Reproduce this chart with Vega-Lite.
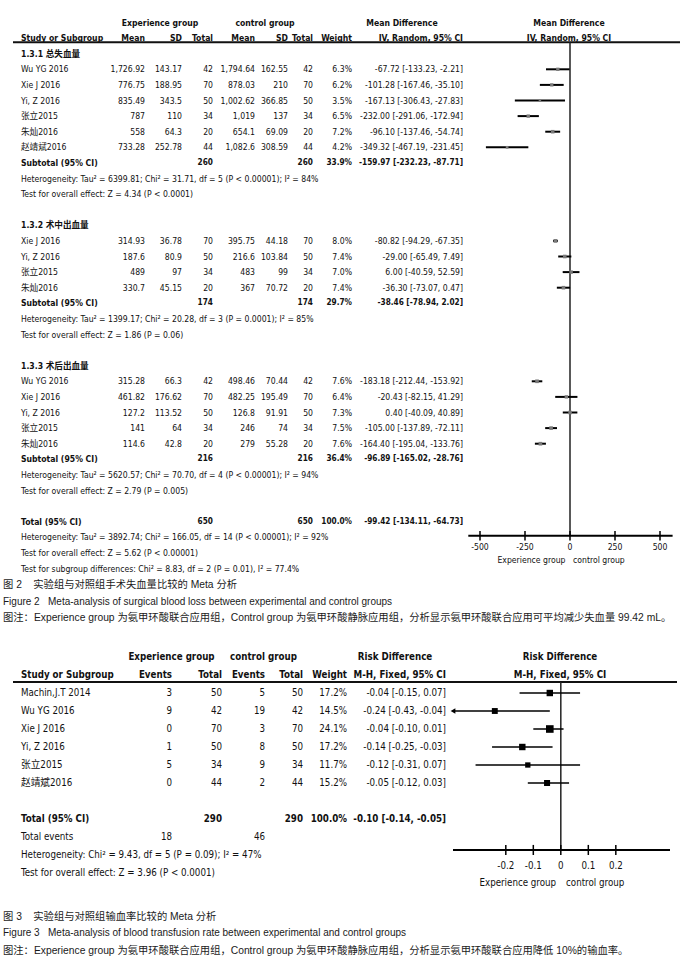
{
  "$schema": "https://vega.github.io/schema/vega-lite/v6.json",
  "width": 682,
  "height": 960,
  "autosize": {"type": "fit", "contains": "padding"},
  "padding": 0,
  "background": "white",
  "config": {
    "view": {"stroke": null},
    "axis": {"disable": true},
    "legend": {"disable": true},
    "text": {"font": "Liberation Sans Narrow, Arial Narrow, DejaVu Sans Condensed, Noto Sans CJK SC, sans-serif", "color": "#111"}
  },
  "resolve": {"scale": {"x": "independent", "y": "independent", "size": "independent"}},
  "datasets": {
    "t2": [
      {"l":0,"c":9,"t":"Experience group","k":"hdr"},
      {"l":0,"c":10,"t":"control group","k":"hdr"},
      {"l":0,"c":11,"t":"Mean Difference","k":"hdr"},
      {"l":0,"c":12,"t":"Mean Difference","k":"hdr"},
      {"l":1,"c":0,"t":"Study or Subgroup","k":"hdr"},
      {"l":1,"c":1,"t":"Mean","k":"hdr"},
      {"l":1,"c":2,"t":"SD","k":"hdr"},
      {"l":1,"c":3,"t":"Total","k":"hdr"},
      {"l":1,"c":4,"t":"Mean","k":"hdr"},
      {"l":1,"c":5,"t":"SD","k":"hdr"},
      {"l":1,"c":6,"t":"Total","k":"hdr"},
      {"l":1,"c":7,"t":"Weight","k":"hdr"},
      {"l":1,"c":8,"t":"IV, Random, 95% CI","k":"hdr"},
      {"l":1,"c":12,"t":"IV, Random, 95% CI","k":"hdr"},
      {"l":2,"c":0,"t":"1.3.1 总失血量","k":"sec"},
      {"l":3,"c":0,"t":"Wu YG 2016","k":"row"},{"l":3,"c":1,"t":"1,726.92","k":"row"},{"l":3,"c":2,"t":"143.17","k":"row"},{"l":3,"c":3,"t":"42","k":"row"},{"l":3,"c":4,"t":"1,794.64","k":"row"},{"l":3,"c":5,"t":"162.55","k":"row"},{"l":3,"c":6,"t":"42","k":"row"},{"l":3,"c":7,"t":"6.3%","k":"row"},{"l":3,"c":8,"t":"-67.72 [-133.23, -2.21]","k":"row"},
      {"l":4,"c":0,"t":"Xie J 2016","k":"row"},{"l":4,"c":1,"t":"776.75","k":"row"},{"l":4,"c":2,"t":"188.95","k":"row"},{"l":4,"c":3,"t":"70","k":"row"},{"l":4,"c":4,"t":"878.03","k":"row"},{"l":4,"c":5,"t":"210","k":"row"},{"l":4,"c":6,"t":"70","k":"row"},{"l":4,"c":7,"t":"6.2%","k":"row"},{"l":4,"c":8,"t":"-101.28 [-167.46, -35.10]","k":"row"},
      {"l":5,"c":0,"t":"Yi, Z 2016","k":"row"},{"l":5,"c":1,"t":"835.49","k":"row"},{"l":5,"c":2,"t":"343.5","k":"row"},{"l":5,"c":3,"t":"50","k":"row"},{"l":5,"c":4,"t":"1,002.62","k":"row"},{"l":5,"c":5,"t":"366.85","k":"row"},{"l":5,"c":6,"t":"50","k":"row"},{"l":5,"c":7,"t":"3.5%","k":"row"},{"l":5,"c":8,"t":"-167.13 [-306.43, -27.83]","k":"row"},
      {"l":6,"c":0,"t":"张立2015","k":"row"},{"l":6,"c":1,"t":"787","k":"row"},{"l":6,"c":2,"t":"110","k":"row"},{"l":6,"c":3,"t":"34","k":"row"},{"l":6,"c":4,"t":"1,019","k":"row"},{"l":6,"c":5,"t":"137","k":"row"},{"l":6,"c":6,"t":"34","k":"row"},{"l":6,"c":7,"t":"6.5%","k":"row"},{"l":6,"c":8,"t":"-232.00 [-291.06, -172.94]","k":"row"},
      {"l":7,"c":0,"t":"朱灿2016","k":"row"},{"l":7,"c":1,"t":"558","k":"row"},{"l":7,"c":2,"t":"64.3","k":"row"},{"l":7,"c":3,"t":"20","k":"row"},{"l":7,"c":4,"t":"654.1","k":"row"},{"l":7,"c":5,"t":"69.09","k":"row"},{"l":7,"c":6,"t":"20","k":"row"},{"l":7,"c":7,"t":"7.2%","k":"row"},{"l":7,"c":8,"t":"-96.10 [-137.46, -54.74]","k":"row"},
      {"l":8,"c":0,"t":"赵靖斌2016","k":"row"},{"l":8,"c":1,"t":"733.28","k":"row"},{"l":8,"c":2,"t":"252.78","k":"row"},{"l":8,"c":3,"t":"44","k":"row"},{"l":8,"c":4,"t":"1,082.6","k":"row"},{"l":8,"c":5,"t":"308.59","k":"row"},{"l":8,"c":6,"t":"44","k":"row"},{"l":8,"c":7,"t":"4.2%","k":"row"},{"l":8,"c":8,"t":"-349.32 [-467.19, -231.45]","k":"row"},
      {"l":9,"c":0,"t":"Subtotal (95% CI)","k":"sub"},{"l":9,"c":3,"t":"260","k":"sub"},{"l":9,"c":6,"t":"260","k":"sub"},{"l":9,"c":7,"t":"33.9%","k":"sub"},{"l":9,"c":8,"t":"-159.97 [-232.23, -87.71]","k":"sub"},
      {"l":10,"c":0,"t":"Heterogeneity: Tau² = 6399.81; Chi² = 31.71, df = 5 (P < 0.00001); I² = 84%","k":"note"},
      {"l":11,"c":0,"t":"Test for overall effect: Z = 4.34 (P < 0.0001)","k":"note"},
      {"l":13,"c":0,"t":"1.3.2 术中出血量","k":"sec"},
      {"l":14,"c":0,"t":"Xie J 2016","k":"row"},{"l":14,"c":1,"t":"314.93","k":"row"},{"l":14,"c":2,"t":"36.78","k":"row"},{"l":14,"c":3,"t":"70","k":"row"},{"l":14,"c":4,"t":"395.75","k":"row"},{"l":14,"c":5,"t":"44.18","k":"row"},{"l":14,"c":6,"t":"70","k":"row"},{"l":14,"c":7,"t":"8.0%","k":"row"},{"l":14,"c":8,"t":"-80.82 [-94.29, -67.35]","k":"row"},
      {"l":15,"c":0,"t":"Yi, Z 2016","k":"row"},{"l":15,"c":1,"t":"187.6","k":"row"},{"l":15,"c":2,"t":"80.9","k":"row"},{"l":15,"c":3,"t":"50","k":"row"},{"l":15,"c":4,"t":"216.6","k":"row"},{"l":15,"c":5,"t":"103.84","k":"row"},{"l":15,"c":6,"t":"50","k":"row"},{"l":15,"c":7,"t":"7.4%","k":"row"},{"l":15,"c":8,"t":"-29.00 [-65.49, 7.49]","k":"row"},
      {"l":16,"c":0,"t":"张立2015","k":"row"},{"l":16,"c":1,"t":"489","k":"row"},{"l":16,"c":2,"t":"97","k":"row"},{"l":16,"c":3,"t":"34","k":"row"},{"l":16,"c":4,"t":"483","k":"row"},{"l":16,"c":5,"t":"99","k":"row"},{"l":16,"c":6,"t":"34","k":"row"},{"l":16,"c":7,"t":"7.0%","k":"row"},{"l":16,"c":8,"t":"6.00 [-40.59, 52.59]","k":"row"},
      {"l":17,"c":0,"t":"朱灿2016","k":"row"},{"l":17,"c":1,"t":"330.7","k":"row"},{"l":17,"c":2,"t":"45.15","k":"row"},{"l":17,"c":3,"t":"20","k":"row"},{"l":17,"c":4,"t":"367","k":"row"},{"l":17,"c":5,"t":"70.72","k":"row"},{"l":17,"c":6,"t":"20","k":"row"},{"l":17,"c":7,"t":"7.4%","k":"row"},{"l":17,"c":8,"t":"-36.30 [-73.07, 0.47]","k":"row"},
      {"l":18,"c":0,"t":"Subtotal (95% CI)","k":"sub"},{"l":18,"c":3,"t":"174","k":"sub"},{"l":18,"c":6,"t":"174","k":"sub"},{"l":18,"c":7,"t":"29.7%","k":"sub"},{"l":18,"c":8,"t":"-38.46 [-78.94, 2.02]","k":"sub"},
      {"l":19,"c":0,"t":"Heterogeneity: Tau² = 1399.17; Chi² = 20.28, df = 3 (P = 0.0001); I² = 85%","k":"note"},
      {"l":20,"c":0,"t":"Test for overall effect: Z = 1.86 (P = 0.06)","k":"note"},
      {"l":22,"c":0,"t":"1.3.3 术后出血量","k":"sec"},
      {"l":23,"c":0,"t":"Wu YG 2016","k":"row"},{"l":23,"c":1,"t":"315.28","k":"row"},{"l":23,"c":2,"t":"66.3","k":"row"},{"l":23,"c":3,"t":"42","k":"row"},{"l":23,"c":4,"t":"498.46","k":"row"},{"l":23,"c":5,"t":"70.44","k":"row"},{"l":23,"c":6,"t":"42","k":"row"},{"l":23,"c":7,"t":"7.6%","k":"row"},{"l":23,"c":8,"t":"-183.18 [-212.44, -153.92]","k":"row"},
      {"l":24,"c":0,"t":"Xie J 2016","k":"row"},{"l":24,"c":1,"t":"461.82","k":"row"},{"l":24,"c":2,"t":"176.62","k":"row"},{"l":24,"c":3,"t":"70","k":"row"},{"l":24,"c":4,"t":"482.25","k":"row"},{"l":24,"c":5,"t":"195.49","k":"row"},{"l":24,"c":6,"t":"70","k":"row"},{"l":24,"c":7,"t":"6.4%","k":"row"},{"l":24,"c":8,"t":"-20.43 [-82.15, 41.29]","k":"row"},
      {"l":25,"c":0,"t":"Yi, Z 2016","k":"row"},{"l":25,"c":1,"t":"127.2","k":"row"},{"l":25,"c":2,"t":"113.52","k":"row"},{"l":25,"c":3,"t":"50","k":"row"},{"l":25,"c":4,"t":"126.8","k":"row"},{"l":25,"c":5,"t":"91.91","k":"row"},{"l":25,"c":6,"t":"50","k":"row"},{"l":25,"c":7,"t":"7.3%","k":"row"},{"l":25,"c":8,"t":"0.40 [-40.09, 40.89]","k":"row"},
      {"l":26,"c":0,"t":"张立2015","k":"row"},{"l":26,"c":1,"t":"141","k":"row"},{"l":26,"c":2,"t":"64","k":"row"},{"l":26,"c":3,"t":"34","k":"row"},{"l":26,"c":4,"t":"246","k":"row"},{"l":26,"c":5,"t":"74","k":"row"},{"l":26,"c":6,"t":"34","k":"row"},{"l":26,"c":7,"t":"7.5%","k":"row"},{"l":26,"c":8,"t":"-105.00 [-137.89, -72.11]","k":"row"},
      {"l":27,"c":0,"t":"朱灿2016","k":"row"},{"l":27,"c":1,"t":"114.6","k":"row"},{"l":27,"c":2,"t":"42.8","k":"row"},{"l":27,"c":3,"t":"20","k":"row"},{"l":27,"c":4,"t":"279","k":"row"},{"l":27,"c":5,"t":"55.28","k":"row"},{"l":27,"c":6,"t":"20","k":"row"},{"l":27,"c":7,"t":"7.6%","k":"row"},{"l":27,"c":8,"t":"-164.40 [-195.04, -133.76]","k":"row"},
      {"l":28,"c":0,"t":"Subtotal (95% CI)","k":"sub"},{"l":28,"c":3,"t":"216","k":"sub"},{"l":28,"c":6,"t":"216","k":"sub"},{"l":28,"c":7,"t":"36.4%","k":"sub"},{"l":28,"c":8,"t":"-96.89 [-165.02, -28.76]","k":"sub"},
      {"l":29,"c":0,"t":"Heterogeneity: Tau² = 5620.57; Chi² = 70.70, df = 4 (P < 0.00001); I² = 94%","k":"note"},
      {"l":30,"c":0,"t":"Test for overall effect: Z = 2.79 (P = 0.005)","k":"note"},
      {"l":32,"c":0,"t":"Total (95% CI)","k":"sub"},{"l":32,"c":3,"t":"650","k":"sub"},{"l":32,"c":6,"t":"650","k":"sub"},{"l":32,"c":7,"t":"100.0%","k":"sub"},{"l":32,"c":8,"t":"-99.42 [-134.11, -64.73]","k":"sub"},
      {"l":33,"c":0,"t":"Heterogeneity: Tau² = 3892.74; Chi² = 166.05, df = 14 (P < 0.00001); I² = 92%","k":"note"},
      {"l":34,"c":0,"t":"Test for overall effect: Z = 5.62 (P < 0.00001)","k":"note"},
      {"l":35,"c":0,"t":"Test for subgroup differences: Chi² = 8.83, df = 2 (P = 0.01), I² = 77.4%","k":"note"}
    ],
    "f2": [
      {"l":3,"k":"row","md":-67.72,"lo":-133.23,"hi":-2.21,"w":6.3},
      {"l":4,"k":"row","md":-101.28,"lo":-167.46,"hi":-35.10,"w":6.2},
      {"l":5,"k":"row","md":-167.13,"lo":-306.43,"hi":-27.83,"w":3.5},
      {"l":6,"k":"row","md":-232.00,"lo":-291.06,"hi":-172.94,"w":6.5},
      {"l":7,"k":"row","md":-96.10,"lo":-137.46,"hi":-54.74,"w":7.2},
      {"l":8,"k":"row","md":-349.32,"lo":-467.19,"hi":-231.45,"w":4.2},
      {"l":9,"k":"sub","md":-159.97,"lo":-232.23,"hi":-87.71,"w":33.9},
      {"l":14,"k":"row","md":-80.82,"lo":-94.29,"hi":-67.35,"w":8.0},
      {"l":15,"k":"row","md":-29.00,"lo":-65.49,"hi":7.49,"w":7.4},
      {"l":16,"k":"row","md":6.00,"lo":-40.59,"hi":52.59,"w":7.0},
      {"l":17,"k":"row","md":-36.30,"lo":-73.07,"hi":0.47,"w":7.4},
      {"l":18,"k":"sub","md":-38.46,"lo":-78.94,"hi":2.02,"w":29.7},
      {"l":23,"k":"row","md":-183.18,"lo":-212.44,"hi":-153.92,"w":7.6},
      {"l":24,"k":"row","md":-20.43,"lo":-82.15,"hi":41.29,"w":6.4},
      {"l":25,"k":"row","md":0.40,"lo":-40.09,"hi":40.89,"w":7.3},
      {"l":26,"k":"row","md":-105.00,"lo":-137.89,"hi":-72.11,"w":7.5},
      {"l":27,"k":"row","md":-164.40,"lo":-195.04,"hi":-133.76,"w":7.6},
      {"l":28,"k":"sub","md":-96.89,"lo":-165.02,"hi":-28.76,"w":36.4},
      {"l":32,"k":"tot","md":-99.42,"lo":-134.11,"hi":-64.73,"w":100}
    ],
    "ticks2": [
      {"v":-500,"lab":"-500"},{"v":-250,"lab":"-250"},{"v":0,"lab":"0"},{"v":250,"lab":"250"},{"v":500,"lab":"500"}
    ],
    "t3": [
      {"l":0,"c":7,"t":"Experience group","k":"hdr"},
      {"l":0,"c":8,"t":"control group","k":"hdr"},
      {"l":0,"c":9,"t":"Risk Difference","k":"hdr"},
      {"l":0,"c":10,"t":"Risk Difference","k":"hdr"},
      {"l":1,"c":0,"t":"Study or Subgroup","k":"hdr"},
      {"l":1,"c":1,"t":"Events","k":"hdr"},
      {"l":1,"c":2,"t":"Total","k":"hdr"},
      {"l":1,"c":3,"t":"Events","k":"hdr"},
      {"l":1,"c":4,"t":"Total","k":"hdr"},
      {"l":1,"c":5,"t":"Weight","k":"hdr"},
      {"l":1,"c":6,"t":"M-H, Fixed, 95% CI","k":"hdr"},
      {"l":1,"c":10,"t":"M-H, Fixed, 95% CI","k":"hdr"},
      {"l":2,"c":0,"t":"Machin,J.T 2014","k":"row"},{"l":2,"c":1,"t":"3","k":"row"},{"l":2,"c":2,"t":"50","k":"row"},{"l":2,"c":3,"t":"5","k":"row"},{"l":2,"c":4,"t":"50","k":"row"},{"l":2,"c":5,"t":"17.2%","k":"row"},{"l":2,"c":6,"t":"-0.04 [-0.15, 0.07]","k":"row"},
      {"l":3,"c":0,"t":"Wu YG 2016","k":"row"},{"l":3,"c":1,"t":"9","k":"row"},{"l":3,"c":2,"t":"42","k":"row"},{"l":3,"c":3,"t":"19","k":"row"},{"l":3,"c":4,"t":"42","k":"row"},{"l":3,"c":5,"t":"14.5%","k":"row"},{"l":3,"c":6,"t":"-0.24 [-0.43, -0.04]","k":"row"},
      {"l":4,"c":0,"t":"Xie J 2016","k":"row"},{"l":4,"c":1,"t":"0","k":"row"},{"l":4,"c":2,"t":"70","k":"row"},{"l":4,"c":3,"t":"3","k":"row"},{"l":4,"c":4,"t":"70","k":"row"},{"l":4,"c":5,"t":"24.1%","k":"row"},{"l":4,"c":6,"t":"-0.04 [-0.10, 0.01]","k":"row"},
      {"l":5,"c":0,"t":"Yi, Z 2016","k":"row"},{"l":5,"c":1,"t":"1","k":"row"},{"l":5,"c":2,"t":"50","k":"row"},{"l":5,"c":3,"t":"8","k":"row"},{"l":5,"c":4,"t":"50","k":"row"},{"l":5,"c":5,"t":"17.2%","k":"row"},{"l":5,"c":6,"t":"-0.14 [-0.25, -0.03]","k":"row"},
      {"l":6,"c":0,"t":"张立2015","k":"row"},{"l":6,"c":1,"t":"5","k":"row"},{"l":6,"c":2,"t":"34","k":"row"},{"l":6,"c":3,"t":"9","k":"row"},{"l":6,"c":4,"t":"34","k":"row"},{"l":6,"c":5,"t":"11.7%","k":"row"},{"l":6,"c":6,"t":"-0.12 [-0.31, 0.07]","k":"row"},
      {"l":7,"c":0,"t":"赵靖斌2016","k":"row"},{"l":7,"c":1,"t":"0","k":"row"},{"l":7,"c":2,"t":"44","k":"row"},{"l":7,"c":3,"t":"2","k":"row"},{"l":7,"c":4,"t":"44","k":"row"},{"l":7,"c":5,"t":"15.2%","k":"row"},{"l":7,"c":6,"t":"-0.05 [-0.12, 0.03]","k":"row"},
      {"l":9,"c":0,"t":"Total (95% CI)","k":"sub"},{"l":9,"c":2,"t":"290","k":"sub"},{"l":9,"c":4,"t":"290","k":"sub"},{"l":9,"c":5,"t":"100.0%","k":"sub"},{"l":9,"c":6,"t":"-0.10 [-0.14, -0.05]","k":"sub"},
      {"l":10,"c":0,"t":"Total events","k":"row"},{"l":10,"c":1,"t":"18","k":"row"},{"l":10,"c":3,"t":"46","k":"row"},
      {"l":11,"c":0,"t":"Heterogeneity: Chi² = 9.43, df = 5 (P = 0.09); I² = 47%","k":"note"},
      {"l":12,"c":0,"t":"Test for overall effect: Z = 3.96 (P < 0.0001)","k":"note"}
    ],
    "f3": [
      {"l":2,"k":"row","md":-0.04,"lo":-0.15,"hi":0.07,"w":17.2},
      {"l":3,"k":"row","md":-0.24,"lo":-0.43,"hi":-0.04,"w":14.5},
      {"l":4,"k":"row","md":-0.04,"lo":-0.10,"hi":0.01,"w":24.1},
      {"l":5,"k":"row","md":-0.14,"lo":-0.25,"hi":-0.03,"w":17.2},
      {"l":6,"k":"row","md":-0.12,"lo":-0.31,"hi":0.07,"w":11.7},
      {"l":7,"k":"row","md":-0.05,"lo":-0.12,"hi":0.03,"w":15.2},
      {"l":9,"k":"tot","md":-0.10,"lo":-0.14,"hi":-0.05,"w":100}
    ],
    "ticks3": [
      {"v":-0.2,"lab":"-0.2"},{"v":-0.1,"lab":"-0.1"},{"v":0,"lab":"0"},{"v":0.1,"lab":"0.1"},{"v":0.2,"lab":"0.2"}
    ],
    "sides": [
      {"fig":2,"s":"E","t":"Experience group"},
      {"fig":2,"s":"C","t":"control group"},
      {"fig":3,"s":"E","t":"Experience group"},
      {"fig":3,"s":"C","t":"control group"}
    ],
    "caps": [
      {"n":0,"k":"title","t":"图 2\u00a0\u00a0\u00a0\u00a0实验组与对照组手术失血量比较的 Meta 分析"},
      {"n":1,"k":"en","t":"Figure 2\u00a0\u00a0\u00a0Meta-analysis of surgical blood loss between experimental and control groups"},
      {"n":2,"k":"note","t":"图注：Experience group 为氨甲环酸联合应用组，Control group 为氨甲环酸静脉应用组，分析显示氨甲环酸联合应用可平均减少失血量 99.42 mL。"},
      {"n":3,"k":"title","t":"图 3\u00a0\u00a0\u00a0\u00a0实验组与对照组输血率比较的 Meta 分析"},
      {"n":4,"k":"en","t":"Figure 3\u00a0\u00a0\u00a0Meta-analysis of blood transfusion rate between experimental and control groups"},
      {"n":5,"k":"note","t":"图注：Experience group 为氨甲环酸联合应用组，Control group 为氨甲环酸静脉应用组，分析显示氨甲环酸联合应用降低 10%的输血率。"}
    ],
    "one": [{"id":1}]
  },
  "layer": [
    {
      "data": {"name": "t2"},
      "encoding": {
        "x": {"field": "c", "type": "quantitative", "scale": {"domain": [0,1,2,3,4,5,6,7,8,9,10,11,12], "range": [21,145,182,213,255,288,313,352,463,160,265,402,569], "nice": false, "zero": false}},
        "y": {"field": "l", "type": "quantitative", "scale": {"domain": [0,35], "range": [22.5,568.5], "nice": false, "zero": false}},
        "text": {"field": "t"}
      },
      "layer": [
        {"transform": [{"filter": "datum.c == 0 && (datum.k == 'row' || datum.k == 'note')"}], "mark": {"type": "text", "align": "left", "fontSize": 8.6}},
        {"transform": [{"filter": "datum.c == 0 && datum.k != 'row' && datum.k != 'note'"}], "mark": {"type": "text", "align": "left", "fontSize": 8.6, "fontWeight": "bold"}},
        {"transform": [{"filter": "datum.c >= 1 && datum.c <= 8 && datum.k == 'row'"}], "mark": {"type": "text", "align": "right", "fontSize": 8.6}},
        {"transform": [{"filter": "datum.c >= 1 && datum.c <= 8 && datum.k == 'hdr'"}], "mark": {"type": "text", "align": "right", "fontSize": 8.6, "fontWeight": "bold"}},
        {"transform": [{"filter": "datum.c >= 1 && datum.c <= 8 && datum.k == 'sub'"}], "mark": {"type": "text", "align": "right", "fontSize": 8.2, "fontWeight": "bold"}},
        {"transform": [{"filter": "datum.c >= 9"}], "mark": {"type": "text", "align": "center", "fontSize": 8.6, "fontWeight": "bold"}}
      ]
    },
    {
      "data": {"name": "one"},
      "mark": {"type": "rule", "strokeWidth": 2, "color": "#111"},
      "encoding": {
        "x": {"datum": 0, "type": "quantitative", "scale": {"domain": [0,1], "range": [13,680], "nice": false, "zero": false}},
        "x2": {"datum": 1},
        "y": {"datum": 1.27, "type": "quantitative", "scale": {"domain": [0,35], "range": [22.5,568.5], "nice": false, "zero": false}}
      }
    },
    {
      "layer": [
        {
          "data": {"name": "one"},
          "mark": {"type": "rule", "strokeWidth": 1.5, "color": "#222"},
          "encoding": {
            "x": {"datum": 0, "type": "quantitative", "scale": {"domain": [-500,500], "range": [480,660], "nice": false, "zero": false}},
            "y": {"datum": 1.27, "type": "quantitative", "scale": {"domain": [0,35], "range": [22.5,568.5], "nice": false, "zero": false}},
            "y2": {"datum": 32.9}
          }
        },
        {
          "data": {"name": "f2"},
          "transform": [{"filter": "datum.k == 'row'"}],
          "mark": {"type": "rule", "strokeWidth": 2, "color": "#000"},
          "encoding": {
            "x": {"field": "lo", "type": "quantitative", "scale": {"domain": [-500,500], "range": [480,660], "nice": false, "zero": false}},
            "x2": {"field": "hi"},
            "y": {"field": "l", "type": "quantitative", "scale": {"domain": [0,35], "range": [22.5,568.5], "nice": false, "zero": false}}
          }
        },
        {
          "data": {"name": "f2"},
          "transform": [{"filter": "datum.k == 'row'"}],
          "mark": {"type": "point", "shape": "square", "filled": true, "color": "#7a7a7a", "opacity": 1},
          "encoding": {
            "x": {"field": "md", "type": "quantitative", "scale": {"domain": [-500,500], "range": [480,660], "nice": false, "zero": false}},
            "y": {"field": "l", "type": "quantitative", "scale": {"domain": [0,35], "range": [22.5,568.5], "nice": false, "zero": false}},
            "size": {"field": "w", "type": "quantitative", "scale": {"domain": [0,8], "range": [0,14], "zero": true}}
          }
        },
        {
          "data": {"name": "f2"},
          "transform": [{"filter": "datum.k != 'row'"}, {"fold": ["lo","md","hi"], "as": ["pt","v"]}],
          "mark": {"type": "area", "orient": "vertical", "color": "#000", "opacity": 1, "yOffset": {"expr": "datum.pt == 'md' ? -6 : 0"}, "y2Offset": {"expr": "datum.pt == 'md' ? 6 : 0"}},
          "encoding": {
            "x": {"field": "v", "type": "quantitative", "scale": {"domain": [-500,500], "range": [480,660], "nice": false, "zero": false}},
            "y": {"field": "l", "type": "quantitative", "scale": {"domain": [0,35], "range": [22.5,568.5], "nice": false, "zero": false}},
            "y2": {"field": "l"},
            "detail": {"field": "l"},
            "order": {"field": "v"}
          }
        },
        {
          "data": {"name": "one"},
          "mark": {"type": "rule", "strokeWidth": 2, "color": "#000"},
          "encoding": {
            "x": {"datum": -565, "type": "quantitative", "scale": {"domain": [-500,500], "range": [480,660], "nice": false, "zero": false}},
            "x2": {"datum": 570},
            "y": {"datum": 32.9, "type": "quantitative", "scale": {"domain": [0,35], "range": [22.5,568.5], "nice": false, "zero": false}}
          }
        },
        {
          "data": {"name": "ticks2"},
          "mark": {"type": "rule", "strokeWidth": 1.5, "color": "#000"},
          "encoding": {
            "x": {"field": "v", "type": "quantitative", "scale": {"domain": [-500,500], "range": [480,660], "nice": false, "zero": false}},
            "y": {"datum": 32.6, "type": "quantitative", "scale": {"domain": [0,35], "range": [22.5,568.5], "nice": false, "zero": false}},
            "y2": {"datum": 33.2}
          }
        },
        {
          "data": {"name": "ticks2"},
          "mark": {"type": "text", "align": "center", "fontSize": 8.6},
          "encoding": {
            "x": {"field": "v", "type": "quantitative", "scale": {"domain": [-500,500], "range": [480,660], "nice": false, "zero": false}},
            "y": {"datum": 33.62, "type": "quantitative", "scale": {"domain": [0,35], "range": [22.5,568.5], "nice": false, "zero": false}},
            "text": {"field": "lab"}
          }
        },
        {
          "data": {"name": "sides"},
          "transform": [{"filter": "datum.fig == 2 && datum.s == 'E'"}],
          "mark": {"type": "text", "align": "right", "fontSize": 8.6},
          "encoding": {
            "x": {"datum": -25, "type": "quantitative", "scale": {"domain": [-500,500], "range": [480,660], "nice": false, "zero": false}},
            "y": {"datum": 34.46, "type": "quantitative", "scale": {"domain": [0,35], "range": [22.5,568.5], "nice": false, "zero": false}},
            "text": {"field": "t"}
          }
        },
        {
          "data": {"name": "sides"},
          "transform": [{"filter": "datum.fig == 2 && datum.s == 'C'"}],
          "mark": {"type": "text", "align": "left", "fontSize": 8.6},
          "encoding": {
            "x": {"datum": 17, "type": "quantitative", "scale": {"domain": [-500,500], "range": [480,660], "nice": false, "zero": false}},
            "y": {"datum": 34.46, "type": "quantitative", "scale": {"domain": [0,35], "range": [22.5,568.5], "nice": false, "zero": false}},
            "text": {"field": "t"}
          }
        }
      ]
    },
    {
      "data": {"name": "t3"},
      "encoding": {
        "x": {"field": "c", "type": "quantitative", "scale": {"domain": [0,1,2,3,4,5,6,7,8,9,10], "range": [21,172,222,265,303,347,446,171.5,263.5,395,560], "nice": false, "zero": false}},
        "y": {"field": "l", "type": "quantitative", "scale": {"domain": [0,12], "range": [657,873], "nice": false, "zero": false}},
        "text": {"field": "t"}
      },
      "layer": [
        {"transform": [{"filter": "datum.c == 0 && (datum.k == 'row' || datum.k == 'note')"}], "mark": {"type": "text", "align": "left", "fontSize": 9.7}},
        {"transform": [{"filter": "datum.c == 0 && datum.k != 'row' && datum.k != 'note'"}], "mark": {"type": "text", "align": "left", "fontSize": 9.7, "fontWeight": "bold"}},
        {"transform": [{"filter": "datum.c >= 1 && datum.c <= 6 && datum.k == 'row'"}], "mark": {"type": "text", "align": "right", "fontSize": 9.7}},
        {"transform": [{"filter": "datum.c >= 1 && datum.c <= 6 && datum.k != 'row'"}], "mark": {"type": "text", "align": "right", "fontSize": 9.7, "fontWeight": "bold"}},
        {"transform": [{"filter": "datum.c >= 7"}], "mark": {"type": "text", "align": "center", "fontSize": 9.7, "fontWeight": "bold"}}
      ]
    },
    {
      "data": {"name": "one"},
      "mark": {"type": "rule", "strokeWidth": 2, "color": "#111"},
      "encoding": {
        "x": {"datum": 0, "type": "quantitative", "scale": {"domain": [0,1], "range": [13,677], "nice": false, "zero": false}},
        "x2": {"datum": 1},
        "y": {"datum": 1.39, "type": "quantitative", "scale": {"domain": [0,12], "range": [657,873], "nice": false, "zero": false}}
      }
    },
    {
      "layer": [
        {
          "data": {"name": "one"},
          "mark": {"type": "rule", "strokeWidth": 1.5, "color": "#222"},
          "encoding": {
            "x": {"datum": 0, "type": "quantitative", "scale": {"domain": [-0.392,0.397], "range": [453,670], "clamp": true, "nice": false, "zero": false}},
            "y": {"datum": 1.39, "type": "quantitative", "scale": {"domain": [0,12], "range": [657,873], "nice": false, "zero": false}},
            "y2": {"datum": 10.72}
          }
        },
        {
          "data": {"name": "f3"},
          "transform": [{"filter": "datum.k == 'row'"}],
          "mark": {"type": "rule", "strokeWidth": 1.5, "color": "#000"},
          "encoding": {
            "x": {"field": "lo", "type": "quantitative", "scale": {"domain": [-0.392,0.397], "range": [453,670], "clamp": true, "nice": false, "zero": false}},
            "x2": {"field": "hi"},
            "y": {"field": "l", "type": "quantitative", "scale": {"domain": [0,12], "range": [657,873], "nice": false, "zero": false}}
          }
        },
        {
          "data": {"name": "f3"},
          "transform": [{"filter": "datum.k == 'row' && datum.lo < -0.392"}],
          "mark": {"type": "point", "shape": "triangle-left", "filled": true, "color": "#000", "opacity": 1, "size": 30},
          "encoding": {
            "x": {"field": "lo", "type": "quantitative", "scale": {"domain": [-0.392,0.397], "range": [453,670], "clamp": true, "nice": false, "zero": false}},
            "y": {"field": "l", "type": "quantitative", "scale": {"domain": [0,12], "range": [657,873], "nice": false, "zero": false}}
          }
        },
        {
          "data": {"name": "f3"},
          "transform": [{"filter": "datum.k == 'row'"}],
          "mark": {"type": "point", "shape": "square", "filled": true, "color": "#000", "opacity": 1},
          "encoding": {
            "x": {"field": "md", "type": "quantitative", "scale": {"domain": [-0.392,0.397], "range": [453,670], "clamp": true, "nice": false, "zero": false}},
            "y": {"field": "l", "type": "quantitative", "scale": {"domain": [0,12], "range": [657,873], "nice": false, "zero": false}},
            "size": {"field": "w", "type": "quantitative", "scale": {"domain": [0,25], "range": [0,60], "zero": true}}
          }
        },
        {
          "data": {"name": "f3"},
          "transform": [{"filter": "datum.k != 'row'"}, {"fold": ["lo","md","hi"], "as": ["pt","v"]}],
          "mark": {"type": "area", "orient": "vertical", "color": "#000", "opacity": 1, "yOffset": {"expr": "datum.pt == 'md' ? -7 : 0"}, "y2Offset": {"expr": "datum.pt == 'md' ? 7 : 0"}},
          "encoding": {
            "x": {"field": "v", "type": "quantitative", "scale": {"domain": [-0.392,0.397], "range": [453,670], "clamp": true, "nice": false, "zero": false}},
            "y": {"field": "l", "type": "quantitative", "scale": {"domain": [0,12], "range": [657,873], "nice": false, "zero": false}},
            "y2": {"field": "l"},
            "detail": {"field": "l"},
            "order": {"field": "v"}
          }
        },
        {
          "data": {"name": "one"},
          "mark": {"type": "rule", "strokeWidth": 2, "color": "#000"},
          "encoding": {
            "x": {"datum": -0.392, "type": "quantitative", "scale": {"domain": [-0.392,0.397], "range": [453,670], "clamp": true, "nice": false, "zero": false}},
            "x2": {"datum": 0.397},
            "y": {"datum": 10.72, "type": "quantitative", "scale": {"domain": [0,12], "range": [657,873], "nice": false, "zero": false}}
          }
        },
        {
          "data": {"name": "ticks3"},
          "mark": {"type": "rule", "strokeWidth": 1.5, "color": "#000"},
          "encoding": {
            "x": {"field": "v", "type": "quantitative", "scale": {"domain": [-0.392,0.397], "range": [453,670], "clamp": true, "nice": false, "zero": false}},
            "y": {"datum": 10.44, "type": "quantitative", "scale": {"domain": [0,12], "range": [657,873], "nice": false, "zero": false}},
            "y2": {"datum": 11.0}
          }
        },
        {
          "data": {"name": "ticks3"},
          "mark": {"type": "text", "align": "center", "fontSize": 9.7},
          "encoding": {
            "x": {"field": "v", "type": "quantitative", "scale": {"domain": [-0.392,0.397], "range": [453,670], "clamp": true, "nice": false, "zero": false}},
            "y": {"datum": 11.61, "type": "quantitative", "scale": {"domain": [0,12], "range": [657,873], "nice": false, "zero": false}},
            "text": {"field": "lab"}
          }
        },
        {
          "data": {"name": "sides"},
          "transform": [{"filter": "datum.fig == 3 && datum.s == 'E'"}],
          "mark": {"type": "text", "align": "right", "fontSize": 9.7},
          "encoding": {
            "x": {"datum": -0.017, "type": "quantitative", "scale": {"domain": [-0.392,0.397], "range": [453,670], "clamp": true, "nice": false, "zero": false}},
            "y": {"datum": 12.56, "type": "quantitative", "scale": {"domain": [0,12], "range": [657,873], "nice": false, "zero": false}},
            "text": {"field": "t"}
          }
        },
        {
          "data": {"name": "sides"},
          "transform": [{"filter": "datum.fig == 3 && datum.s == 'C'"}],
          "mark": {"type": "text", "align": "left", "fontSize": 9.7},
          "encoding": {
            "x": {"datum": 0.019, "type": "quantitative", "scale": {"domain": [-0.392,0.397], "range": [453,670], "clamp": true, "nice": false, "zero": false}},
            "y": {"datum": 12.56, "type": "quantitative", "scale": {"domain": [0,12], "range": [657,873], "nice": false, "zero": false}},
            "text": {"field": "t"}
          }
        }
      ]
    },
    {
      "data": {"name": "caps"},
      "encoding": {
        "x": {"datum": 0, "type": "quantitative", "scale": {"domain": [0,1], "range": [3,682], "nice": false, "zero": false}},
        "y": {"field": "n", "type": "quantitative", "scale": {"domain": [0,1,2,3,4,5], "range": [585,602,618,917,933,951], "nice": false, "zero": false}},
        "text": {"field": "t"}
      },
      "layer": [
        {"transform": [{"filter": "datum.k == 'title'"}], "mark": {"type": "text", "align": "left", "fontSize": 10.3, "font": "Liberation Sans, Noto Sans CJK SC, sans-serif", "color": "#1a1a1a"}},
        {"transform": [{"filter": "datum.k == 'en'"}], "mark": {"type": "text", "align": "left", "fontSize": 10, "font": "Liberation Sans, Noto Sans CJK SC, sans-serif", "color": "#1a1a1a"}},
        {"transform": [{"filter": "datum.k == 'note'"}], "mark": {"type": "text", "align": "left", "fontSize": 10.3, "font": "Liberation Sans, Noto Sans CJK SC, sans-serif", "color": "#1a1a1a"}}
      ]
    }
  ]
}
